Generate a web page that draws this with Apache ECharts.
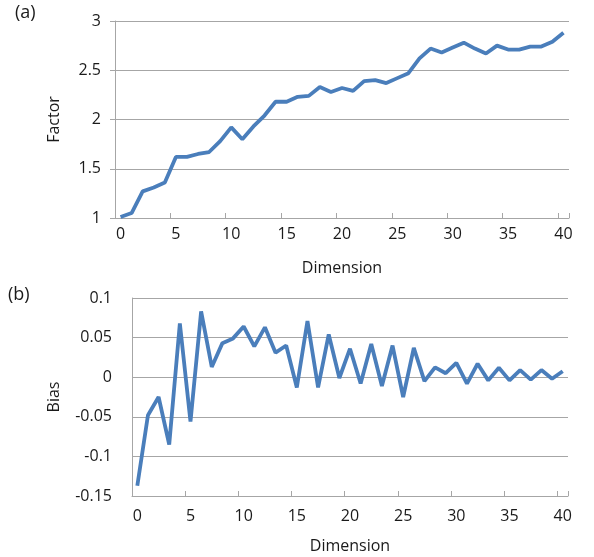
<!DOCTYPE html>
<html>
<head>
<meta charset="utf-8">
<script src="https://cdn.jsdelivr.net/npm/echarts@6/dist/echarts.min.js"></script>
<style>
    html, body { margin: 0; padding: 0; background: #fff; }
    #chart { width: 594px; height: 557px; }
</style>
</head>
<body>
<div id="chart"></div>
<script>
// x 轴：维度 0..40
const dimensions = [];
for (let i = 0; i <= 40; i++) {
    dimensions.push(String(i));
}

// (a) Factor
const factorValues = [
    1.01, 1.05, 1.27, 1.31, 1.36, 1.62, 1.62, 1.65, 1.67, 1.78,
    1.92, 1.80, 1.93, 2.04, 2.18, 2.18, 2.23, 2.24, 2.33, 2.28,
    2.32, 2.29, 2.39, 2.40, 2.37, 2.42, 2.47, 2.62, 2.72, 2.68,
    2.73, 2.78, 2.72, 2.67, 2.75, 2.71, 2.71, 2.74, 2.74, 2.79,
    2.88,
];

// (b) Bias
const biasValues = [
    -0.137, -0.048, -0.025, -0.085, 0.068, -0.056, 0.083, 0.013, 0.043, 0.049,
    0.064, 0.039, 0.063, 0.031, 0.040, -0.013, 0.071, -0.013, 0.054, -0.001,
    0.036, -0.008, 0.042, -0.011, 0.040, -0.025, 0.037, -0.005, 0.0125, 0.005,
    0.018, -0.008, 0.017, -0.004, 0.012, -0.004, 0.009, -0.003, 0.009, -0.002,
    0.0075,
];

const FONT = 'Open Sans';
const TEXT_COLOR = '#1a1a1a';
const GRID_COLOR = '#a6a6a6';
const LINE_COLOR = '#4a7ebb';

const myChart = echarts.init(document.getElementById('chart'), null, { renderer: 'canvas' });

const xAxisBase = (gridIndex, labelMargin) => ({
    type: 'category',
    gridIndex: gridIndex,
    data: dimensions,
    boundaryGap: true,
    name: 'Dimension',
    nameLocation: 'middle',
    nameGap: 42,
    nameTextStyle: { fontFamily: FONT, fontSize: 16, color: TEXT_COLOR },
    axisLine: { onZero: false, lineStyle: { color: GRID_COLOR, width: 1 } },
    axisTick: { show: true, inside: true, length: 5, interval: 4, lineStyle: { color: GRID_COLOR } },
    axisLabel: { interval: 4, margin: labelMargin, fontFamily: FONT, fontSize: 16, color: TEXT_COLOR },
    splitLine: { show: false },
});

const option = {
    animation: false,
    grid: [
        { left: 115, top: 21, width: 454, height: 197 },
        { left: 132, top: 298, width: 436, height: 198 },
    ],
    graphic: [
        { type: 'text', left: 15, top: 4, style: { text: '(a)', fontFamily: FONT, fontSize: 18, fill: TEXT_COLOR } },
        { type: 'text', left: 8, top: 286, style: { text: '(b)', fontFamily: FONT, fontSize: 18, fill: TEXT_COLOR } },
    ],
    xAxis: [
        xAxisBase(0, 8),
        xAxisBase(1, 12),
    ],
    yAxis: [
        {
            type: 'value',
            gridIndex: 0,
            min: 1,
            max: 3,
            interval: 0.5,
            name: 'Factor',
            nameLocation: 'middle',
            nameGap: 53,
            nameTextStyle: { fontFamily: FONT, fontSize: 16, color: TEXT_COLOR },
            axisLine: { show: true, lineStyle: { color: GRID_COLOR, width: 1 } },
            axisTick: { show: true, length: 5, lineStyle: { color: GRID_COLOR } },
            axisLabel: { margin: 14, fontFamily: FONT, fontSize: 16, color: TEXT_COLOR },
            splitLine: { lineStyle: { color: GRID_COLOR, width: 1 } },
        },
        {
            type: 'value',
            gridIndex: 1,
            min: -0.15,
            max: 0.1,
            interval: 0.05,
            name: 'Bias',
            nameLocation: 'middle',
            nameGap: 70,
            nameTextStyle: { fontFamily: FONT, fontSize: 16, color: TEXT_COLOR },
            axisLine: { show: true, lineStyle: { color: GRID_COLOR, width: 1 } },
            axisTick: { show: false },
            axisLabel: {
                margin: 20,
                fontFamily: FONT,
                fontSize: 16,
                color: TEXT_COLOR,
                formatter: (v) => String(Math.round(v * 100) / 100),
            },
            splitLine: { lineStyle: { color: GRID_COLOR, width: 1 } },
        },
    ],
    series: [
        {
            type: 'line',
            xAxisIndex: 0,
            yAxisIndex: 0,
            data: factorValues,
            showSymbol: false,
            lineStyle: { color: LINE_COLOR, width: 3.8 },
        },
        {
            type: 'line',
            xAxisIndex: 1,
            yAxisIndex: 1,
            data: biasValues,
            showSymbol: false,
            lineStyle: { color: LINE_COLOR, width: 3.8 },
        },
    ],
};

myChart.setOption(option);
</script>
</body>
</html>
